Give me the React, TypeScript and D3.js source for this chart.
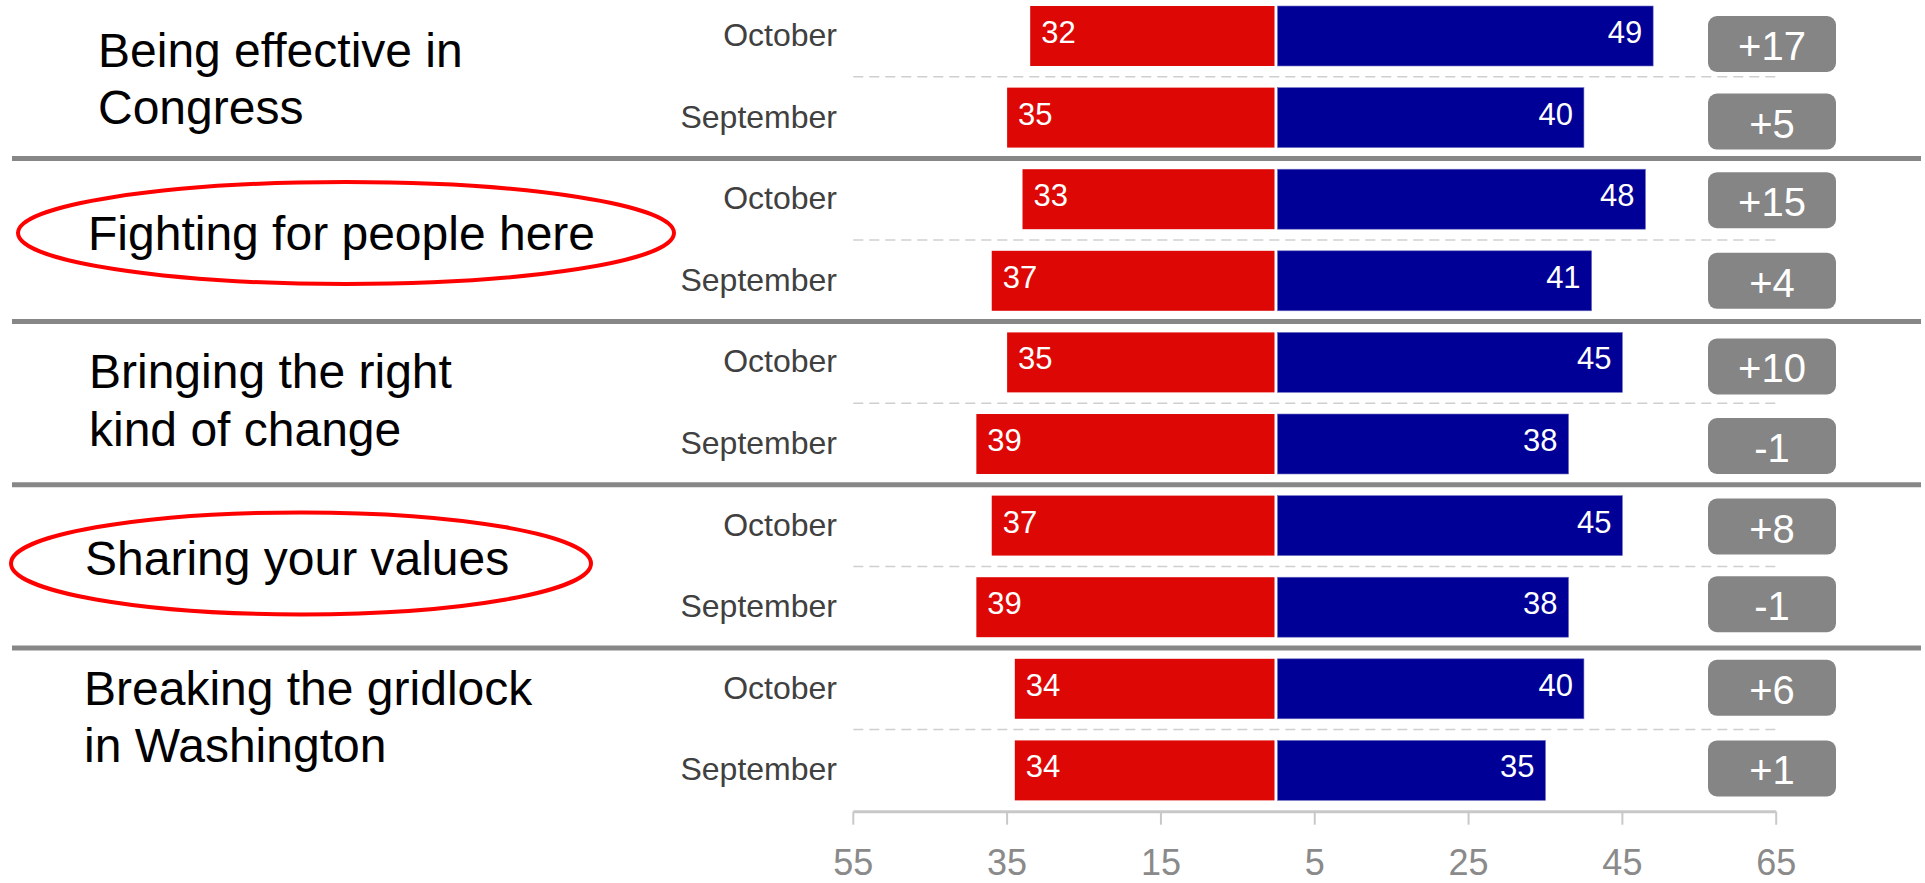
import React from "react";
import * as d3 from "d3";

// ---------- data ----------
const categoryLines: string[][] = [
  ["Being effective in", "Congress"],
  ["Fighting for people here"],
  ["Bringing the right", "kind of change"],
  ["Sharing your values"],
  ["Breaking the gridlock", "in Washington"],
];
const highlighted = [false, true, false, true, false];
const months = ["October", "September"];
const repOctober = [32, 33, 35, 37, 34];
const repSeptember = [35, 37, 39, 39, 34];
const demOctober = [49, 48, 45, 45, 40];
const demSeptember = [40, 41, 38, 38, 35];
const tickValues = [-55, -35, -15, 5, 25, 45, 65];

// ---------- layout / style ----------
const W = 1925;
const H = 883;
const FONT = "'Liberation Sans', Arial, Helvetica, sans-serif";
const RED = "#dd0806";
const BLUE = "#000096";
const GRAY = "#858585";
const labelX = [98, 88, 89, 85, 84];
const labelDy = [-10, 10, -15, 9, -25];
const labelLineH = 57.5;
const ellipseStyle = [null, { cx: 346, dy: -7, rx: 328, ry: 51 }, null, { cx: 301, dy: -3, rx: 290, ry: 51 }, null];
const boxDy = [8, 4, 1, 0, 4, 2, 1, -3, -1, -2];

type Row = { key: string; group: number; month: string; rep: number; dem: number };
const rows: Row[] = [];
categoryLines.forEach((_, g) => {
  rows.push({ key: `${g}-0`, group: g, month: months[0], rep: repOctober[g], dem: demOctober[g] });
  rows.push({ key: `${g}-1`, group: g, month: months[1], rep: repSeptember[g], dem: demSeptember[g] });
});

export default function App() {
  const x = d3.scaleLinear().domain([-55, 65]).range([853.3, 1776.2]);
  const y = d3
    .scaleBand<string>()
    .domain(rows.map((r) => r.key))
    .range([-4.8, 811.2])
    .paddingInner(0.265)
    .paddingOuter(0.1325);
  const bw = y.bandwidth();
  const step = y.step();
  const x0 = x(0);
  const axisY = 811.7;
  const boxX = 1708;
  const boxW = 128;
  const boxH = 56;

  const groupCenter = (g: number) => (y(`${g}-0`)! + y(`${g}-1`)! + bw) / 2;

  return (
    <svg
      width={W}
      height={H}
      style={{ position: "absolute", left: 0, top: 0, display: "block", background: "#fff" }}
      fontFamily={FONT}
    >
      {/* group separators */}
      {categoryLines.slice(1).map((_, i) => {
        const yy = y(`${i + 1}-0`)! - (step - bw) / 2;
        return <line key={`sep${i}`} x1={12} x2={1921} y1={yy} y2={yy} stroke="#878787" strokeWidth={5} />;
      })}
      {/* dashed in-group separators */}
      {categoryLines.map((_, g) => {
        const yy = y(`${g}-1`)! - (step - bw) / 2;
        return (
          <line
            key={`dash${g}`}
            x1={x(-55)}
            x2={x(65)}
            y1={yy}
            y2={yy}
            stroke="#cfcfcf"
            strokeWidth={1.5}
            strokeDasharray="10,6"
          />
        );
      })}
      {/* category labels */}
      {categoryLines.map((lines, g) => {
        const cy = groupCenter(g);
        const e = highlighted[g] ? ellipseStyle[g] : null;
        return (
          <g key={`cat${g}`}>
            {e && (
              <ellipse cx={e.cx} cy={cy + e.dy} rx={e.rx} ry={e.ry} fill="none" stroke="#ff0000" strokeWidth={4} />
            )}
            <text x={labelX[g]} y={cy + labelDy[g]} fontSize={48} fill="#000">
              {lines.map((l, i) => (
                <tspan key={i} x={labelX[g]} dy={i === 0 ? 0 : labelLineH}>
                  {l}
                </tspan>
              ))}
            </text>
          </g>
        );
      })}
      {/* rows */}
      {rows.map((r, i) => {
        const top = y(r.key)!;
        const cy = top + bw / 2;
        const diff = r.dem - r.rep;
        const diffLabel = (diff > 0 ? "+" : "") + diff;
        const bcy = cy + boxDy[i];
        return (
          <g key={r.key}>
            <text x={837} y={cy + 10} textAnchor="end" fontSize={32} fill="#404040">
              {r.month}
            </text>
            <rect x={x(-r.rep)} y={top} width={x0 - 1.8 - x(-r.rep)} height={bw} fill={RED} />
            <rect x={x0 + 1.2} y={top} width={x(r.dem) - x0 - 1.2} height={bw} fill={BLUE} stroke="#6f6fc0" strokeWidth={0.6} />
            <text x={x(-r.rep) + 11} y={cy + 7} fontSize={31} fill="#fff">
              {r.rep}
            </text>
            <text x={x(r.dem) - 11} y={cy + 7} textAnchor="end" fontSize={31} fill="#fff">
              {r.dem}
            </text>
            <rect x={boxX} y={bcy - boxH / 2} width={boxW} height={boxH} rx={9} fill={GRAY} />
            <text x={boxX + boxW / 2} y={bcy + 16} textAnchor="middle" fontSize={40} fill="#fff">
              {diffLabel}
            </text>
          </g>
        );
      })}
      {/* axis */}
      <line x1={x(-55)} x2={x(65)} y1={axisY} y2={axisY} stroke="#c8c8c8" strokeWidth={3} />
      {tickValues.map((t) => (
        <g key={`t${t}`}>
          <line x1={x(t)} x2={x(t)} y1={axisY} y2={axisY + 13} stroke="#c8c8c8" strokeWidth={2} />
          <text x={x(t)} y={875} textAnchor="middle" fontSize={36} fill="#8a8a8a">
            {Math.abs(t)}
          </text>
        </g>
      ))}
    </svg>
  );
}
